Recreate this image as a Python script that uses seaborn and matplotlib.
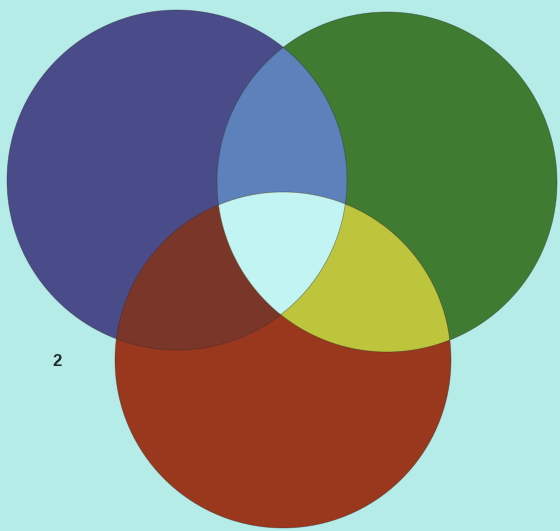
import numpy as np
import seaborn as sns
import matplotlib.pyplot as plt

# circles: blue, green, red  (pixel coordinates, y down)
names = ['blue', 'green', 'red']
cx = [177, 387, 283]
cy = [180, 182, 360]
rad = [170, 170, 168]

# single colours and overlap colours
single_colors = ['#4a4c8a', '#3f7b30', '#9a381d']
pair_keys = [(0, 1), (0, 2), (1, 2)]
pair_colors = ['#5d81bb', '#7a3628', '#bcc53c']
triple_color = '#c2f4f3'
bg_color = '#b6ece8'

label = '2'

sns.set_theme(style='white', rc={'figure.facecolor': bg_color, 'axes.facecolor': bg_color})

fig = plt.figure(figsize=(5.6, 5.31), dpi=100)
ax = fig.add_axes([0, 0, 1, 1])


def region(idx, n=720):
    # intersection of circles idx as polygon, by radial distance from an inner point
    px = np.mean([cx[i] for i in idx])
    py = np.mean([cy[i] for i in idx])
    th = np.linspace(0, 2 * np.pi, n)
    ux, uy = np.cos(th), np.sin(th)
    t = np.full(n, np.inf)
    for i in idx:
        dx, dy = px - cx[i], py - cy[i]
        b = ux * dx + uy * dy
        c = dx * dx + dy * dy - rad[i] ** 2
        t = np.minimum(t, -b + np.sqrt(b * b - c))
    return px + t * ux, py + t * uy


for i in range(3):
    x, y = region([i])
    ax.fill(x, y, color=single_colors[i], lw=0)
for k, col in zip(pair_keys, pair_colors):
    x, y = region(list(k))
    ax.fill(x, y, color=col, lw=0)
x, y = region([0, 1, 2])
ax.fill(x, y, color=triple_color, lw=0)

# faint outlines
for i in range(3):
    x, y = region([i])
    ax.plot(x, y, color='#2a2a30', lw=0.6, alpha=0.4)

ax.text(57, 361, label, fontsize=12, fontweight='bold', color='#1e2a2a',
        family=['Liberation Sans', 'DejaVu Sans'], ha='center', va='center')

ax.set_xlim(0, 560)
ax.set_ylim(531, 0)
ax.set_aspect('equal')
ax.axis('off')

plt.savefig('out.png', dpi=100, facecolor=bg_color)
